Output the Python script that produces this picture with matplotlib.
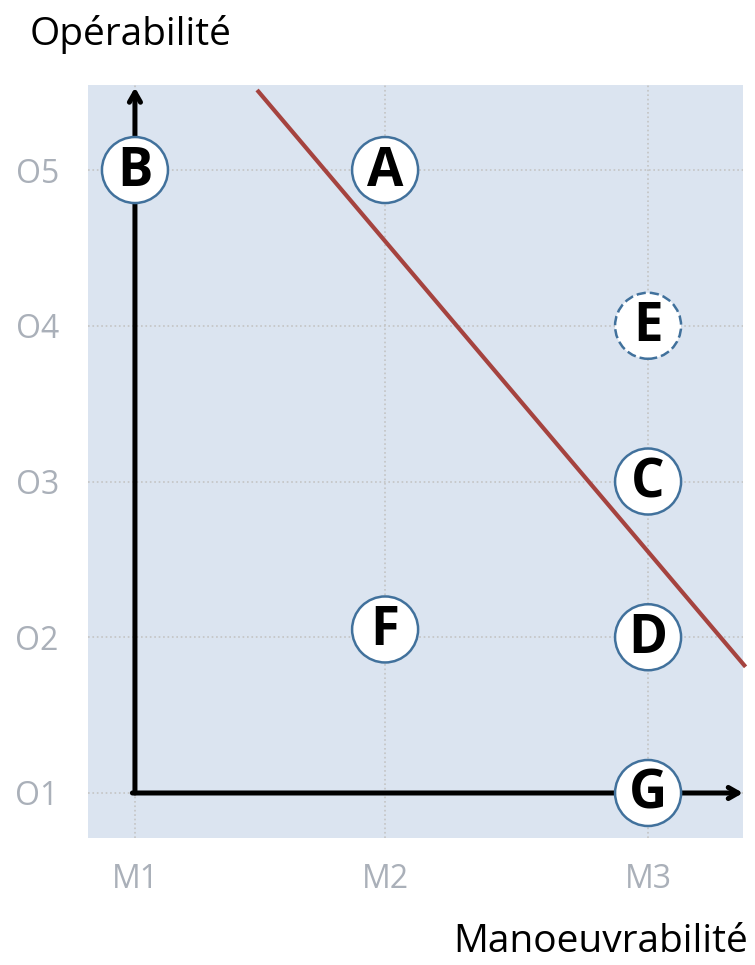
import matplotlib.pyplot as plt
from matplotlib.patches import Ellipse

# axis categories
m_labels = ['M1', 'M2', 'M3']
m_pos = [1, 1.975, 3]
o_labels = ['O1', 'O2', 'O3', 'O4', 'O5']
o_pos = [1, 2, 3, 4, 5]

# points (manoeuvrabilite, operabilite)
letters = ['B', 'A', 'E', 'C', 'D', 'F', 'G']
pt_x = [1.0, 1.975, 3.0, 3.0, 3.0, 1.975, 3.0]
pt_y = [5.0, 5.0, 4.0, 3.0, 2.0, 2.05, 1.0]
dashed = ['E']

# red boundary line
line_x = [1.476, 3.38]
line_y = [5.514, 1.81]

fig = plt.figure(figsize=(7.55, 9.65), dpi=100)
ax = fig.add_axes([88/755, 1-838/965, 655/755, 753/965])
ax.set_facecolor('#dbe4f0')
ax.set_xlim(0.817, 3.37)
ax.set_ylim(0.711, 5.546)

for s in ax.spines.values():
    s.set_visible(False)
ax.set_xticks(m_pos)
ax.set_xticklabels(m_labels)
ax.set_yticks(o_pos)
ax.set_yticklabels(o_labels)
ax.tick_params(axis='x', length=0, labelsize=23, labelcolor='#aab0b9', pad=18)
ax.tick_params(axis='y', length=0, labelsize=23, labelcolor='#aab0b9', pad=21)
for t in ax.get_xticklabels() + ax.get_yticklabels():
    t.set_family('Open Sans')
ax.grid(True, color='#c4c4c4', linestyle=':', linewidth=1.2, zorder=0)
ax.set_axisbelow(True)

# arrows
ax.annotate('', xy=(1, 5.53), xytext=(1, 1),
            arrowprops=dict(arrowstyle='->,head_length=0.7,head_width=0.4',
                            lw=3.6, color='black', shrinkA=0, shrinkB=0),
            annotation_clip=False, zorder=3)
ax.annotate('', xy=(3.37, 1), xytext=(0.99, 1),
            arrowprops=dict(arrowstyle='->,head_length=0.7,head_width=0.4',
                            lw=3.6, color='black', shrinkA=0, shrinkB=0),
            annotation_clip=False, zorder=3)

ax.plot(line_x, line_y, color='#a5433f', lw=3, solid_capstyle='butt',
        clip_on=False, zorder=4)

w = 66 / 256.5
h = 66 / 155.75
for lab, x, y in zip(letters, pt_x, pt_y):
    ls = '--' if lab in dashed else '-'
    e = Ellipse((x, y), w, h, facecolor='white', edgecolor='#41719c',
                lw=1.8, ls=ls, zorder=5)
    ax.add_patch(e)
    ax.text(x, y - 0.01, lab, ha='center', va='center', fontsize=38,
            fontweight='bold', family='Open Sans', color='black', zorder=6)

fig.text(30/755, 1-34/965, 'Opérabilité', fontsize=28, family='Open Sans',
         ha='left', va='center', color='black')
fig.text(748/755, 1-942/965, 'Manoeuvrabilité', fontsize=28, family='Open Sans',
         ha='right', va='center', color='black')

plt.savefig('out.png', dpi=100)
